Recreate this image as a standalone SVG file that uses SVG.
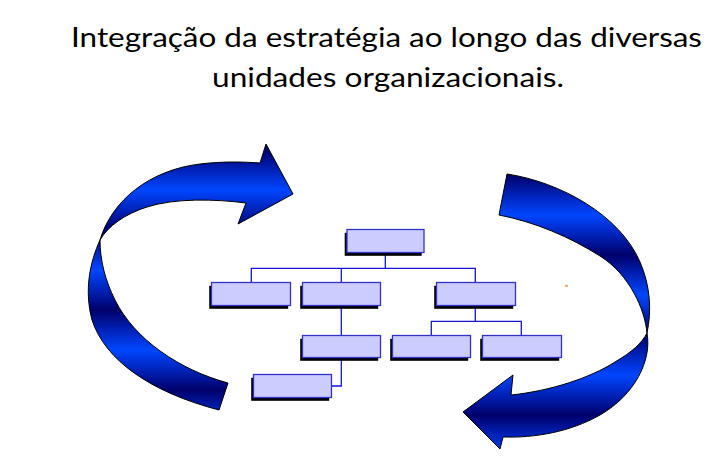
<svg xmlns="http://www.w3.org/2000/svg" width="727" height="470" viewBox="0 0 727 470">
  <style>
    .title { font-family: "Lato", "Liberation Sans", sans-serif; font-size: 26px; fill: #000; }
    .box { fill: #CCCCFF; stroke: #3333CC; stroke-width: 1.3; }
    .shadow { fill: #000; }
    .conn { fill: none; stroke: #1414E0; stroke-width: 1.3; }
    .arrow { stroke: #000; stroke-width: 1; stroke-linejoin: round; }
  </style>
  <defs>
    <linearGradient id="gradL" gradientUnits="userSpaceOnUse" x1="0" y1="230" x2="0" y2="270" spreadMethod="reflect">
      <stop offset="0" stop-color="#00006A"/>
      <stop offset="0.5" stop-color="#0022B8"/>
      <stop offset="1" stop-color="#0046FF"/>
    </linearGradient>
    <linearGradient id="gradR" gradientUnits="userSpaceOnUse" x1="0" y1="175" x2="0" y2="215" spreadMethod="reflect">
      <stop offset="0" stop-color="#00006A"/>
      <stop offset="0.5" stop-color="#0022B8"/>
      <stop offset="1" stop-color="#0046FF"/>
    </linearGradient>
  </defs>

  <rect width="727" height="470" fill="#fff"/>

  <g id="title">
    <text class="title" x="71" y="47" textLength="631" lengthAdjust="spacingAndGlyphs">Integração da estratégia ao longo das diversas</text>
    <text class="title" x="212" y="87" textLength="352" lengthAdjust="spacingAndGlyphs">unidades organizacionais.</text>
  </g>

  <g id="arrow-left">
    <path class="arrow" fill="url(#gradL)" d="M100,240 C90,262 84,290 92,320 C105,360 150,392 219,410 L228,383 C180,370 135,340 115,300 C105,280 100,260 100,240 Z"/>
    <path class="arrow" fill="url(#gradL)" d="M100,240 C112,200 150,170 200,164 C225,161 245,162 260,163 L266,144 L293,194 L238,224 L246,203 C215,199 175,198 147,207 C125,214 108,226 100,240 Z"/>
  </g>

  <g id="arrow-right">
    <path class="arrow" fill="url(#gradR)" d="M507,174 C560,182 620,215 640,262 C650,285 652,310 647,333 C645,310 630,275 600,256 C570,237 535,222 499,215 Z"/>
    <path class="arrow" fill="url(#gradR)" d="M647,333 C652,360 635,395 600,415 C570,432 535,438 503,437 L500,449 L463,412 L513,375 L511,395 C550,391 590,378 615,362 C632,352 642,343 647,333 Z"/>
  </g>

  <g id="connectors">
    <path class="conn" d="M385.3,252.5 V268.3"/>
    <path class="conn" d="M251.3,282.5 V268.3 H475.3 V282.5"/>
    <path class="conn" d="M341.3,268.3 V282.5"/>
    <path class="conn" d="M341.3,305.5 V335.5"/>
    <path class="conn" d="M475.3,305.5 V321.3"/>
    <path class="conn" d="M431.3,335.5 V321.3 H521.3 V335.5"/>
    <path class="conn" d="M341.3,357.5 V386 H331.5"/>
  </g>

  <g id="node-top">
    <rect class="shadow" x="344.7" y="232.8" width="77" height="23"/>
    <rect class="box" x="347" y="229.5" width="77" height="23"/>
  </g>
  <g id="node-a">
    <rect class="shadow" x="209.2" y="285.8" width="79" height="23"/>
    <rect class="box" x="211.5" y="282.5" width="79" height="23"/>
  </g>
  <g id="node-b">
    <rect class="shadow" x="300.2" y="285.8" width="78" height="23"/>
    <rect class="box" x="302.5" y="282.5" width="78" height="23"/>
  </g>
  <g id="node-c">
    <rect class="shadow" x="434.2" y="285.8" width="79" height="23"/>
    <rect class="box" x="436.5" y="282.5" width="79" height="23"/>
  </g>
  <g id="node-d">
    <rect class="shadow" x="300.2" y="338.8" width="78" height="22"/>
    <rect class="box" x="302.5" y="335.5" width="78" height="22"/>
  </g>
  <g id="node-e">
    <rect class="shadow" x="390.2" y="338.8" width="78" height="22"/>
    <rect class="box" x="392.5" y="335.5" width="78" height="22"/>
  </g>
  <g id="node-f">
    <rect class="shadow" x="480.2" y="338.8" width="79" height="22"/>
    <rect class="box" x="482.5" y="335.5" width="79" height="22"/>
  </g>
  <g id="node-g">
    <rect class="shadow" x="251.2" y="377.8" width="78" height="23"/>
    <rect class="box" x="253.5" y="374.5" width="78" height="23"/>
  </g>

  <ellipse cx="566.5" cy="285.8" rx="1.8" ry="1.1" fill="#F0A060"/>
</svg>
